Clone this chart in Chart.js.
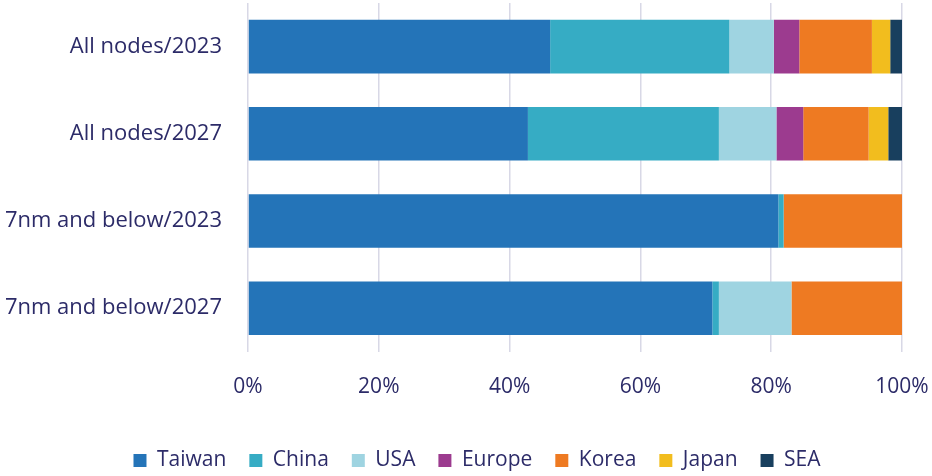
<!DOCTYPE html>
<html>
<head>
<meta charset="utf-8">
<script src="https://cdn.jsdelivr.net/npm/chart.js@4"></script>
<style>
  html, body { margin: 0; padding: 0; background: #fff; }
  #wrap { width: 932px; height: 476px; }
</style>
</head>
<body>
<div id="wrap"><canvas id="canvas"></canvas></div>
<script>
const categories = ['All nodes/2023', 'All nodes/2027', '7nm and below/2023', '7nm and below/2027'];

const taiwan = [46.2, 42.8, 81.1, 71.0];
const china = [27.4, 29.2, 0.8, 1.0];
const usa = [6.8, 8.8, 0, 11.1];
const europe = [3.9, 4.1, 0, 0];
const korea = [11.1, 10.0, 18.1, 16.9];
const japan = [2.8, 3.0, 0, 0];
const sea = [1.8, 2.1, 0, 0];

const xTicks = [0, 20, 40, 60, 80, 100];

const textColor = '#2c2b68';

const ctx = document.getElementById('canvas').getContext('2d');
new Chart(ctx, {
  type: 'bar',
  data: {
    labels: categories,
    datasets: [
      { label: 'Taiwan', data: taiwan, backgroundColor: '#2474b8' },
      { label: 'China', data: china, backgroundColor: '#36acc4' },
      { label: 'USA', data: usa, backgroundColor: '#9fd4e1' },
      { label: 'Europe', data: europe, backgroundColor: '#9c3b8f' },
      { label: 'Korea', data: korea, backgroundColor: '#ee7a22' },
      { label: 'Japan', data: japan, backgroundColor: '#f2bd1e' },
      { label: 'SEA', data: sea, backgroundColor: '#183f5e' }
    ]
  },
  options: {
    indexAxis: 'y',
    responsive: true,
    maintainAspectRatio: false,
    animation: false,
    categoryPercentage: 0.615,
    barPercentage: 1.0,
    // negative right padding only widens the legend box so it sits where the original one does
    layout: { padding: { top: 3, right: -22, bottom: -5, left: 0 } },
    scales: {
      x: {
        stacked: true,
        min: 0,
        max: 100,
        afterBuildTicks: (axis) => { axis.ticks = xTicks.map(v => ({ value: v })); },
        afterFit: (axis) => {
          axis.height += 4;
          axis.paddingRight = 30;
        },
        ticks: {
          callback: (v) => v + '%',
          color: textColor,
          font: { family: 'Open Sans', size: 21 },
          padding: 23
        },
        grid: { color: '#d8d8e6', lineWidth: 1.5, drawTicks: false },
        border: { display: false }
      },
      y: {
        stacked: true,
        afterFit: (axis) => {
          axis.width = 248;
          axis.paddingTop = 0;
          axis.paddingBottom = 0;
        },
        ticks: {
          color: textColor,
          font: { family: 'Open Sans', size: 22 },
          padding: 26
        },
        grid: { display: false, drawTicks: false },
        border: { display: false }
      }
    },
    plugins: {
      legend: {
        position: 'bottom',
        labels: {
          color: textColor,
          font: { family: 'Open Sans', size: 21 },
          boxWidth: 13,
          boxHeight: 13,
          padding: 23
        }
      },
      tooltip: { enabled: false }
    }
  }
});
</script>
</body>
</html>
